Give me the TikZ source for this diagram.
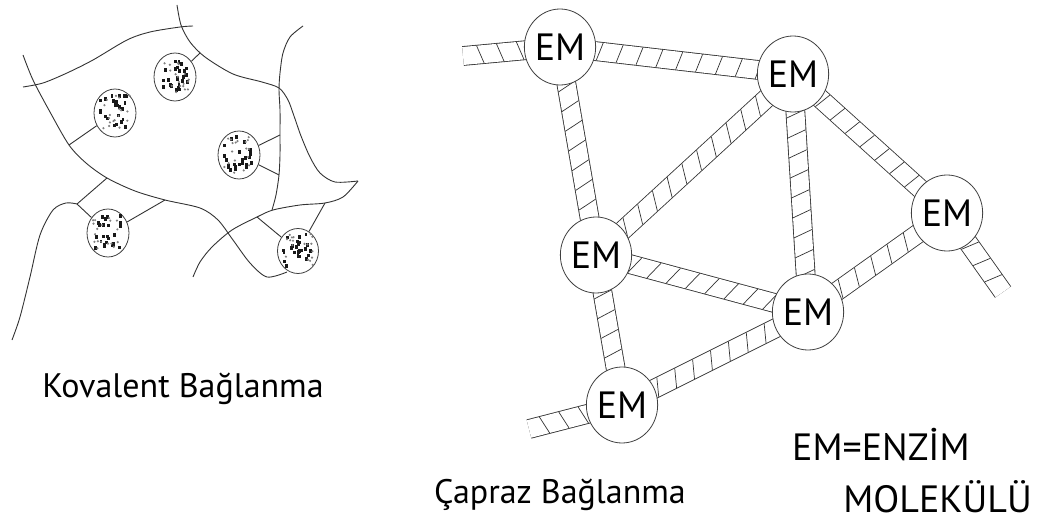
\documentclass[tikz,border=0pt]{standalone}
\usepackage{fontspec}
\setmainfont{PT Sans}
\usetikzlibrary{shapes.geometric,decorations.markings,backgrounds}

% dark and grey specks inside an enzyme blob
\newcommand\speckle[1]{%
  \foreach \k in {1,...,24}{%
    \pgfmathsetmacro\dx{rand*14-1}%
    \pgfmathsetmacro\dy{rand*17-1}%
    \fill[black!90,shift={(#1)}] (\dx-1.4,\dy-1.8) rectangle ++(2.9,3.7);
  }%
  \foreach \k in {1,...,18}{%
    \pgfmathsetmacro\dx{rand*15}%
    \pgfmathsetmacro\dy{rand*18}%
    \fill[black!50,shift={(#1)}] (\dx,\dy) circle (1.2);
  }}

\tikzset{
  em/.style={ellipse,draw=black!75,line width=0.8pt,fill=white,
    minimum width=68pt,minimum height=76pt,inner sep=0pt,
    font=\fontsize{38}{40}\selectfont},
  band/.style={draw=white,line width=18pt,
    preaction={draw=black!80,line width=19.7pt},
    postaction={decorate,decoration={markings,
      mark=between positions 0 and 1 step 20pt with
      {\draw[black!80,line width=0.7pt] (#1,-9.1) -- (-#1,9.1);}}}},
  band/.default=3,
  strand/.style={draw=black!80,line width=0.9pt},
  enzyme/.style={ellipse,draw=black!75,line width=0.8pt,fill=white,
    minimum width=42pt,minimum height=48pt,inner sep=0pt},
  caption/.style={font=\fontsize{34}{40}\selectfont,inner sep=0pt},
  legend/.style={font=\fontsize{38}{44}\selectfont,inner sep=0pt}
}

\begin{document}
\begin{tikzpicture}[x=1pt,y=-1pt]
\useasboundingbox (0,0) rectangle (1048,521);
\pgfmathsetseed{11}

% cross-linked enzyme molecules
\node[em] (em1) at (560,47) {EM};
\node[em] (em2) at (793,74) {EM};
\node[em] (em3) at (596,255) {EM};
\node[em] (em4) at (808,312) {EM};
\node[em] (em5) at (622,405) {EM};
\node[em] (em6) at (947,213) {EM};
\coordinate (tail1) at (463,56);
\coordinate (tail5) at (529,429);
\coordinate (tail6) at (1003,292);

\begin{scope}[on background layer]
  \draw[band=2.5] (em1.center) -- (em2.center);
  \draw[band=-4] (em1.center) -- (em3.center);
  \draw[band=5] (em3.center) -- (em2.center);
  \draw[band=-3.6] (em2.center) -- (em4.center);
  \draw[band=1.5] (em2.center) -- (em6.center);
  \draw[band=5] (em3.center) -- (em4.center);
  \draw[band=-3] (em3.center) -- (em5.center);
  \draw[band=3.5] (em5.center) -- (em4.center);
  \draw[band=3.5] (em4.center) -- (em6.center);
  \draw[band=-3] (em1.center) -- (tail1);
  \draw[band=-3] (em5.center) -- (tail5);
  \draw[band=2] (em6.center) -- (tail6);
\end{scope}

% covalently bound enzymes on polymer strands
\draw[strand] plot[smooth] coordinates {(23,87) (43,83) (67,73) (93,60) (127,40) (150,32) (180,27) (193,26)};
\draw[strand] plot[smooth] coordinates {(177,5) (181,25) (190,42) (205,57) (233,74) (262,82) (279,88) (288,100) (294,116) (301,136) (310,157) (320,173) (335,182) (358,181)};
\draw[strand] plot[smooth] coordinates {(358,181) (343,197) (325,203) (300,205) (273,210) (257,217) (232,230) (212,247) (200,262) (193,277)};
\draw[strand] plot[smooth] coordinates {(303,26) (290,37) (283,53) (280,73) (279,90) (280,110) (280,135) (280,155) (279,175) (276,195) (272,210)};
\draw[strand] plot[smooth] coordinates {(23,55) (33,80) (50,112) (69,145) (86,163) (107,178) (135,191) (165,200) (200,208) (218,220) (233,240) (250,263) (267,277) (287,272)};
\draw[strand] plot[smooth] coordinates {(12,340) (20,317) (30,277) (40,235) (53,210) (66,203) (77,204)};

\coordinate (j) at (77,204);
\coordinate (c1) at (107,178);
\coordinate (c2) at (69,145);
\coordinate (c3) at (165,200);
\coordinate (a1) at (200,53);
\coordinate (b3u) at (280,135);
\coordinate (b3l) at (279,175);
\coordinate (e1) at (257,217);
\coordinate (e2) at (325,203);

\node[enzyme] (b1) at (175,77) {};
\node[enzyme] (b2) at (115,113) {};
\node[enzyme] (b3) at (239,155) {};
\node[enzyme] (b4) at (108,233) {};
\node[enzyme,minimum width=41pt,minimum height=45pt] (b5) at (298,251) {};

\draw[strand] (j) -- (c1);
\draw[strand] (j) -- (b4);
\draw[strand] (c3) -- (b4);
\draw[strand] (a1) -- (b1);
\draw[strand] (c2) -- (b2);
\draw[strand] (b3u) -- (b3);
\draw[strand] (b3l) -- (b3);
\draw[strand] (e1) -- (b5);
\draw[strand] (e2) -- (b5);

\foreach \b in {b1,b2,b3,b4,b5}{\speckle{\b}}

% labels
\node[caption,anchor=base] (kovalent) at (183,397) {Kovalent Bağlanma};
\node[caption,anchor=base] (capraz) at (560,503) {Çapraz Bağlanma};
\node[legend,anchor=base west] (legend1) at (792,460) {EM=ENZİM};
\node[legend,anchor=base east] (legend2) at (1032,512) {MOLEKÜLÜ};
\end{tikzpicture}
\end{document}
